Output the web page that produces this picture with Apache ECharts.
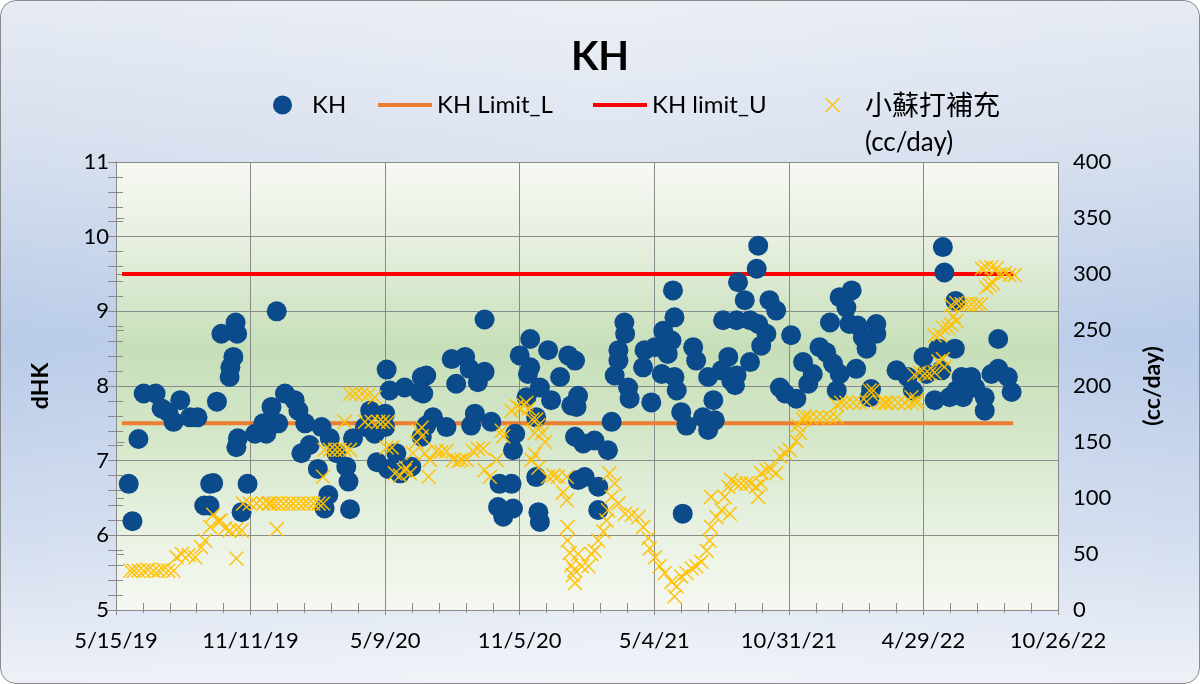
<!DOCTYPE html>
<html>
<head>
<meta charset="utf-8">
<script src="https://cdn.jsdelivr.net/npm/echarts@6/dist/echarts.min.js"></script>
<style>
html,body{margin:0;padding:0;background:#ffffff;}
#frame{position:absolute;left:0;top:0;width:1200px;height:684px;box-sizing:border-box;border:1.5px solid #8a8a8a;border-radius:16px;overflow:hidden;
background:
 linear-gradient(90deg, rgba(255,255,255,0) 0%, rgba(255,255,255,0.2) 50%, rgba(255,255,255,0) 100%),
 linear-gradient(180deg, #e6ebf3 0%, #d6dfee 22%, #b9cbe8 50%, #d3ddef 78%, #edf1f7 100%);}
#chart{position:absolute;left:0;top:0;width:1200px;height:684px;}
</style>
</head>
<body>
<div id="frame"></div>
<div id="chart"></div>
<script>
// ---- data ----
// x values: days since 5/15/19
const xTickLabels = ['5/15/19','11/11/19','5/9/20','11/5/20','5/4/21','10/31/21','4/29/22','10/26/22'];

const khDays = [17,22,30,37,53,61,70,77,86,99,109,118,125,126,130,135,141,152,153,157,160,161,162,163,168,176,186,197,
201,208,215,217,226,239,244,248,253,259,270,275,279,284,286,295,308,311,313,317,333,340,346,349,360,360,362,364,366,375,380,386,395,406,409,
409,411,415,415,424,442,449,455,467,473,475,480,484,493,493,502,511,513,518,529,531,531,534,540,549,551,554,554,562,562,565,567,567,578,582,594,605,609,614,
614,616,618,618,625,627,640,645,645,658,663,667,672,672,680,681,685,687,705,707,716,721,730,732,738,743,745,747,747,750,756,758,763,772,776,785,792,792,799,801,810,812,819,823,
828,830,830,832,841,848,848,857,859,859,863,870,874,883,888,895,903,910,919,926,932,941,950,955,959,964,968,968,977,981,984,990,992,999,1004,1008,1010,1017,1017,
1044,1059,1066,1080,1084,1095,1100,1104,1106,1108,1115,1122,1123,1124,1131,1133,1144,1149,1162,1162,1171,1180,1180,1193,1198];
const khValues = [6.69,6.19,7.29,7.90,7.90,7.70,7.65,7.52,7.81,7.58,7.58,6.40,6.40,6.69,6.70,7.79,8.70,8.12,8.25,8.39,8.85,7.18,8.70,7.30,6.31,6.69,7.36,7.50,
7.36,7.72,9.00,7.50,7.90,7.81,7.67,7.10,7.50,7.21,6.89,7.45,6.36,6.54,7.30,7.10,6.92,6.72,6.35,7.30,7.45,7.67,7.36,6.98,7.63,7.45,8.22,6.89,7.94,7.10,6.83,7.98,6.92,7.92,8.12,
7.32,7.90,8.14,7.47,7.58,7.45,8.36,8.03,8.39,8.23,7.47,7.63,8.05,8.19,8.89,7.52,6.38,6.69,6.25,6.69,7.14,6.36,7.36,8.41,7.85,8.16,8.63,8.25,7.58,6.78,6.31,6.18,7.98,8.48,7.81,8.12,8.41,7.74,7.32,
8.34,7.72,6.74,7.87,7.23,6.78,7.27,6.65,6.34,7.14,7.52,8.14,8.48,8.34,8.85,8.70,7.98,7.83,8.25,8.48,7.78,8.52,8.16,8.74,8.43,8.61,9.28,8.92,8.12,7.94,7.65,6.29,7.47,8.52,8.34,7.58,8.12,7.41,7.81,7.54,8.21,8.88,8.39,8.07,
8.01,8.14,8.88,9.39,9.15,8.88,8.32,9.57,9.88,8.83,8.54,8.70,9.15,9.01,7.98,7.90,8.68,7.83,8.32,8.03,8.16,8.52,8.45,8.85,8.30,7.94,8.16,9.19,9.05,8.83,9.28,8.23,8.81,8.65,8.50,7.85,7.96,8.83,8.70,
8.21,8.12,7.94,8.39,8.16,7.81,8.50,8.21,9.86,9.52,7.85,8.50,9.14,7.94,8.12,7.85,8.12,7.98,7.85,7.67,8.16,8.23,8.63,8.12,7.92];

const sodaDays = [19,24,30,37,43,50,57,63,70,77,
81,88,97,106,114,119,126,130,137,140,146,152,161,161,168,170,179,188,197,204,206,211,215,217,224,231,237,244,251,257,264,271,277,277,
279,286,293,299,306,306,313,313,320,329,333,337,342,346,351,357,362,364,369,373,380,386,388,393,397,402,405,409,409,413,418,420,
429,435,442,451,458,462,469,477,484,491,493,500,509,516,518,529,536,541,545,549,552,556,557,560,560,562,565,565,570,574,578,585,591,
598,603,603,604,604,607,609,611,613,614,618,623,632,636,640,645,652,656,658,660,663,667,672,681,690,699,705,712,714,721,727,734,743,747,750,
756,763,770,776,783,790,794,796,796,803,810,814,819,821,823,829,836,843,849,856,859,863,863,870,876,883,888,895,901,910,912,915,919,921,
928,937,946,955,964,964,970,977,986,995,1004,1008,1013,1022,1028,1031,1037,1046,1055,1064,1064,1068,1071,1071,1075,1082,1088,1095,1095,
1100,1102,1106,1106,1108,1113,1117,1117,1120,1124,1124,1131,1137,1144,1151,1157,1158,1164,1164,1169,1171,1173,1178,1182,1189,1195,1202];
const sodaValues = [35,35,35,35,36,35,35,36,35,35,
47,50,49,47,56,62,74,85,79,80,73,71,72,46,71,95,95,95,95,95,95,95,72,95,95,95,95,95,95,95,95,95,95,119,
143,143,143,143,143,168,143,193,193,193,168,192,168,190,168,168,145,168,145,122,120,124,127,122,140,150,160,155,163,140,119,134,
142,141,142,134,133,134,134,142,144,144,125,119,134,160,155,178,182,180,183,185,180,134,170,158,139,170,165,127,158,150,119,120,119,
105,119,98,74,62,51,40,31,36,24,50,39,39,50,53,62,70,80,89,122,101,113,95,86,85,83,74,64,55,47,39,33,25,12,21,
30,33,37,39,43,53,62,74,101,83,89,101,110,86,116,113,113,113,113,110,101,113,122,125,126,122,137,140,143,151,165,158,170,173,
172,172,172,172,172,183,185,185,185,185,186,196,196,185,185,185,185,185,185,185,190,210,185,188,212,211,211,212,245,
222,246,224,252,217,252,255,272,262,258,274,273,273,273,273,273,305,288,306,290,306,292,305,300,301,299,299];

const limitDays = [8, 1200];
const limitLowValues = [7.5, 7.5];
const limitUpValues = [9.5, 9.5];

// ---- chart ----
const FONT = 'Lato, "Noto Sans CJK TC", sans-serif';
const CJK = '"Noto Sans CJK TC", Lato, sans-serif';
const XPATH = 'path://M0,0.7L0.7,0L5,4.3L9.3,0L10,0.7L5.7,5L10,9.3L9.3,10L5,5.7L0.7,10L0,9.3L4.3,5Z';
const GRAY = '#8a8a8a';

const pair = (xs, ys) => xs.map((d, i) => [d, ys[i]]);

const chart = echarts.init(document.getElementById('chart'), null, {renderer: 'canvas'});
const legendText = {fontSize: 24, color: '#000', fontFamily: FONT, lineHeight: 28};
const option = {
  animation: false,
  backgroundColor: 'transparent',
  textStyle: {fontFamily: FONT},
  title: {
    text: 'KH', left: 'center', top: 32,
    textStyle: {fontSize: 40, fontWeight: 'bold', color: '#000', fontFamily: FONT}
  },
  legend: [
    {data: [{name: 'KH', icon: 'circle'}], left: 273, top: 91, padding: 0, itemWidth: 19, itemHeight: 19, selectedMode: false,
     textStyle: Object.assign({}, legendText, {padding: [0, 0, 0, 15]})},
    {data: [{name: 'KH Limit_L', icon: 'rect'}], left: 378, top: 91, padding: 0, itemWidth: 54, itemHeight: 4, selectedMode: false, textStyle: legendText},
    {data: [{name: 'KH limit_U', icon: 'rect'}], left: 593, top: 91, padding: 0, itemWidth: 54, itemHeight: 4, selectedMode: false, textStyle: legendText},
    {data: [{name: '小蘇打補充', icon: XPATH}], left: 825, top: 90, padding: 0, itemWidth: 15, itemHeight: 15, selectedMode: false,
     textStyle: {fontSize: 27, color: '#000', fontFamily: CJK, lineHeight: 30, padding: [0, 0, 0, 20]}}
  ],
  graphic: [
    {type: 'text', left: 865, top: 130, silent: true,
     style: {text: '(cc/day)', fontSize: 26, fontFamily: FONT, fill: '#000'}}
  ],
  grid: {
    left: 116, right: 142, top: 162, bottom: 74, show: true, borderWidth: 0,
    backgroundColor: {type: 'linear', x: 0, y: 0, x2: 0, y2: 1, colorStops: [
      {offset: 0, color: '#f7f9f4'},
      {offset: 0.18, color: '#e6efdf'},
      {offset: 0.42, color: '#c6dfb8'},
      {offset: 0.62, color: '#d5e7ca'},
      {offset: 0.85, color: '#ebf3e5'},
      {offset: 1, color: '#f5f8f1'}
    ]}
  },
  xAxis: [
    {
      type: 'value', min: 0, max: 1260, interval: 180,
      axisLine: {show: true, onZero: false, lineStyle: {color: GRAY, width: 1}},
      axisTick: {show: true, inside: true, length: 7, lineStyle: {color: GRAY}},
      minorTick: {show: true, splitNumber: 5, length: 7, lineStyle: {color: GRAY}},
      splitLine: {show: true, lineStyle: {color: GRAY, width: 1}},
      axisLabel: {
        color: '#000', fontSize: 22, fontFamily: FONT, margin: 20, showMinLabel: true, showMaxLabel: true,
        formatter: v => xTickLabels[Math.round(v / 180)] || ''
      }
    },
    {
      type: 'value', min: 0, max: 1260, interval: 180, position: 'bottom',
      axisLine: {show: false}, axisLabel: {show: false}, splitLine: {show: false},
      axisTick: {show: true, inside: false, length: 5, lineStyle: {color: GRAY}},
      minorTick: {show: true, splitNumber: 5, length: 3, lineStyle: {color: GRAY}}
    }
  ],
  yAxis: [
    {
      type: 'value', min: 5, max: 11, interval: 1, position: 'left',
      axisLine: {show: true, lineStyle: {color: GRAY}},
      axisTick: {show: true, length: 8, lineStyle: {color: GRAY}},
      minorTick: {show: true, splitNumber: 5, length: 8, lineStyle: {color: GRAY}},
      splitLine: {show: true, lineStyle: {color: GRAY, width: 1}},
      axisLabel: {color: '#000', fontSize: 22, fontFamily: FONT, margin: 7},
      name: 'dHK', nameLocation: 'middle', nameGap: 64, nameRotate: 90,
      nameTextStyle: {fontSize: 23, fontWeight: 'bold', color: '#000', fontFamily: FONT}
    },
    {
      type: 'value', min: 0, max: 400, interval: 50, position: 'right',
      axisLine: {show: true, lineStyle: {color: GRAY}},
      axisTick: {show: true, length: 8, lineStyle: {color: GRAY}},
      splitLine: {show: false},
      axisLabel: {color: '#000', fontSize: 22, fontFamily: FONT, margin: 15},
      name: '(cc/day)', nameLocation: 'middle', nameGap: 83, nameRotate: 90,
      nameTextStyle: {fontSize: 23, fontWeight: 'bold', color: '#000', fontFamily: FONT}
    },
    {
      type: 'value', min: 5, max: 11, interval: 1, position: 'left',
      axisLine: {show: false}, axisLabel: {show: false}, splitLine: {show: false},
      axisTick: {show: true, inside: true, length: 7, lineStyle: {color: GRAY}},
      minorTick: {show: true, splitNumber: 5, length: 7, lineStyle: {color: GRAY}}
    }
  ],
  series: [
    {name: 'KH Limit_L', type: 'line', data: pair(limitDays, limitLowValues), symbol: 'none', z: 2,
     lineStyle: {color: '#ed7d31', width: 4}, itemStyle: {color: '#ed7d31'}, emphasis: {disabled: true}, silent: true},
    {name: 'KH limit_U', type: 'line', data: pair(limitDays, limitUpValues), symbol: 'none', z: 2,
     lineStyle: {color: '#ff0000', width: 4}, itemStyle: {color: '#ff0000'}, emphasis: {disabled: true}, silent: true},
    {name: 'KH', type: 'scatter', data: pair(khDays, khValues), symbol: 'circle', symbolSize: 20, z: 3,
     itemStyle: {color: '#0b4a8b', opacity: 1}, emphasis: {disabled: true}},
    {name: '小蘇打補充', type: 'scatter', yAxisIndex: 1, data: pair(sodaDays, sodaValues), symbol: XPATH, symbolSize: 15, z: 4,
     itemStyle: {color: '#ffc000', opacity: 0.95}, emphasis: {disabled: true}}
  ]
};
chart.setOption(option);
</script>
</body>
</html>
